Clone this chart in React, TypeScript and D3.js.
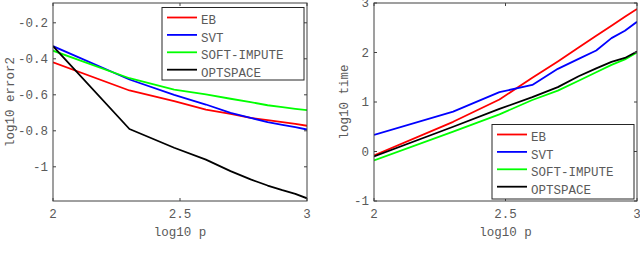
import * as d3 from 'd3';
import React from 'react';

// log10 p for p = 100, 200, ..., 1000
const logP = [2, 2.301, 2.477, 2.602, 2.699, 2.778, 2.845, 2.903, 2.954, 3];

const seriesNames = ['EB', 'SVT', 'SOFT-IMPUTE', 'OPTSPACE'];
const seriesColors = ['#ff0000', '#0000ff', '#00ff00', '#000000'];

// left panel: log10 error2
const errEB = [-0.42, -0.576, -0.635, -0.682, -0.706, -0.728, -0.741, -0.752, -0.761, -0.772];
const errSVT = [-0.33, -0.515, -0.6, -0.654, -0.7, -0.728, -0.752, -0.767, -0.78, -0.793];
const errSoft = [-0.355, -0.508, -0.571, -0.598, -0.622, -0.641, -0.658, -0.669, -0.678, -0.685];
const errOpt = [-0.33, -0.79, -0.894, -0.96, -1.024, -1.07, -1.104, -1.13, -1.15, -1.175];

// right panel: log10 time
const timeEB = [-0.08, 0.6, 1.05, 1.49, 1.82, 2.1, 2.34, 2.54, 2.72, 2.88];
const timeSVT = [0.337, 0.806, 1.2, 1.345, 1.67, 1.87, 2.04, 2.29, 2.44, 2.62];
const timeSoft = [-0.18, 0.4, 0.75, 1.04, 1.23, 1.43, 1.6, 1.75, 1.86, 2.0];
const timeOpt = [-0.1, 0.5, 0.86, 1.1, 1.3, 1.52, 1.68, 1.81, 1.89, 2.02];

const xTicks = [2, 2.5, 3];
const errTicks = [-1, -0.8, -0.6, -0.4, -0.2];
const timeTicks = [-1, 0, 1, 2, 3];

const FONT = '"Liberation Mono", "DejaVu Sans Mono", monospace';
const AXIS = '#404040';
const TEXT = '#5a5a5a';

type PanelProps = {
    left: number;
    right: number;
    top: number;
    bottom: number;
    yDomain: [number, number];
    yTicks: number[];
    yLabel: string;
    yLabelX: number;
    series: number[][];
    legend: { x: number; y: number; w: number; h: number };
};

const Panel: React.FC<PanelProps> = ({
    left,
    right,
    top,
    bottom,
    yDomain,
    yTicks,
    yLabel,
    yLabelX,
    series,
    legend,
}) => {
    const x = d3.scaleLinear().domain([2, 3]).range([left, right]);
    const y = d3.scaleLinear().domain(yDomain).range([bottom, top]);
    const line = d3
        .line<number>()
        .x((_, i) => x(logP[i]))
        .y((d) => y(d));
    const tl = 3;
    const clipId = `clip-${left}`;

    return (
        <g>
            <defs>
                <clipPath id={clipId}>
                    <rect x={left} y={top} width={right - left} height={bottom - top} />
                </clipPath>
            </defs>
            <g clipPath={`url(#${clipId})`}>
                {series.map((s, i) => (
                    <path
                        key={i}
                        d={line(s) || ''}
                        fill="none"
                        stroke={seriesColors[i]}
                        strokeWidth={1.8}
                        strokeLinejoin="round"
                    />
                ))}
            </g>
            <rect
                x={left}
                y={top}
                width={right - left}
                height={bottom - top}
                fill="none"
                stroke={AXIS}
                strokeWidth={1}
            />
            {xTicks.map((t) => (
                <g key={t}>
                    <line x1={x(t)} x2={x(t)} y1={bottom} y2={bottom - tl} stroke={AXIS} />
                    <line x1={x(t)} x2={x(t)} y1={top} y2={top + tl} stroke={AXIS} />
                    <text
                        x={x(t)}
                        y={bottom + 17}
                        textAnchor="middle"
                        fontFamily={FONT}
                        fontSize={12.5}
                        fill={TEXT}
                    >
                        {t}
                    </text>
                </g>
            ))}
            {yTicks.map((t) => (
                <g key={t}>
                    <line x1={left} x2={left + tl} y1={y(t)} y2={y(t)} stroke={AXIS} />
                    <line x1={right} x2={right - tl} y1={y(t)} y2={y(t)} stroke={AXIS} />
                    <text
                        x={left - 5}
                        y={y(t)}
                        dy="0.35em"
                        textAnchor="end"
                        fontFamily={FONT}
                        fontSize={12.5}
                        fill={TEXT}
                    >
                        {String(t)}
                    </text>
                </g>
            ))}
            <text
                x={(left + right) / 2}
                y={bottom + 35}
                textAnchor="middle"
                fontFamily={FONT}
                fontSize={12.5}
                fill={TEXT}
            >
                log10 p
            </text>
            <text
                transform={`translate(${yLabelX},${(top + bottom) / 2}) rotate(-90)`}
                textAnchor="middle"
                fontFamily={FONT}
                fontSize={12.5}
                fill={TEXT}
            >
                {yLabel}
            </text>
            <g>
                <rect
                    x={legend.x}
                    y={legend.y}
                    width={legend.w}
                    height={legend.h}
                    fill="#fff"
                    stroke="#262626"
                    strokeWidth={1}
                />
                {seriesNames.map((name, i) => (
                    <g key={name}>
                        <line
                            x1={legend.x + 5}
                            x2={legend.x + 35}
                            y1={legend.y + 10 + i * 17.4}
                            y2={legend.y + 10 + i * 17.4}
                            stroke={seriesColors[i]}
                            strokeWidth={1.8}
                        />
                        <text
                            x={legend.x + 39}
                            y={legend.y + 16.8 + i * 17.4}
                            fontFamily={FONT}
                            fontSize={12.5}
                            fill={TEXT}
                        >
                            {name}
                        </text>
                    </g>
                ))}
            </g>
        </g>
    );
};

export default function App() {
    return (
        <svg
            width={640}
            height={258}
            style={{ position: 'absolute', left: 0, top: 0, background: '#fff' }}
        >
            <Panel
                left={53}
                right={307}
                top={3}
                bottom={201}
                yDomain={[-1.19, -0.09]}
                yTicks={errTicks}
                yLabel="log10 error2"
                yLabelX={14}
                series={[errEB, errSVT, errSoft, errOpt]}
                legend={{ x: 162, y: 7.5, w: 142, h: 72.5 }}
            />
            <Panel
                left={374}
                right={637}
                top={3}
                bottom={201}
                yDomain={[-1, 3]}
                yTicks={timeTicks}
                yLabel="log10 time"
                yLabelX={348}
                series={[timeEB, timeSVT, timeSoft, timeOpt]}
                legend={{ x: 492, y: 124.5, w: 142, h: 74.5 }}
            />
        </svg>
    );
}
